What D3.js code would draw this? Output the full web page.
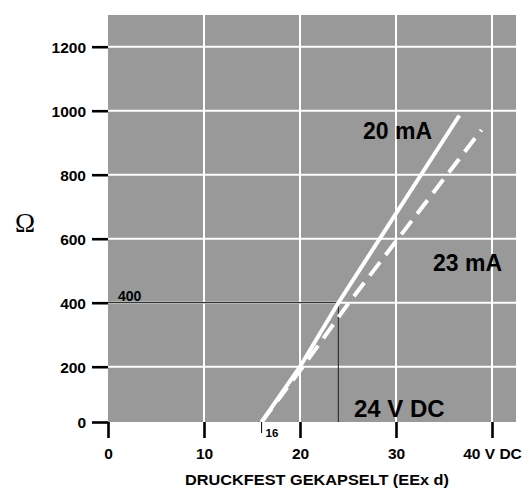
<!DOCTYPE html>
<html>
<head>
<script src="https://d3js.org/d3.v7.min.js"></script>
<style>
  body {margin: 0; background: #fff;}
  .tick text, .lbl {font-family: "Liberation Sans", Arial, sans-serif; font-weight: bold; fill: #000;}
</style>
</head>
<body>
<svg id="chart" width="529" height="488"></svg>
<script>
// data
var yTicks = [0, 200, 400, 600, 800, 1000, 1200];
var xTicks = [0, 10, 20, 30, 40];
var xTickLabels = ["0", "10", "20", "30", "40 V DC"];
var line20U = [16, 20, 24, 36.6];
var line20R = [0, 200, 400, 985];
var line23U = [16, 20.3, 25.1, 38.9];
var line23R = [0, 200, 400, 940];
var refU = 24, refR = 400, startU = 16;

var svg = d3.select("#chart"),
    pLeft = 108, pRight = 516, pTop = 15, pBottom = 422;

var x = d3.scaleLinear().domain([0, 42.5]).range([pLeft, pRight]);
// the drawing's y axis: 0 sits on the bottom edge, 200 steps are even from 200 up
var y = d3.scaleLinear().domain([0, 200, 1200]).range([pBottom, 366.7, 46.7]);

svg.append("rect")
    .attr("x", pLeft).attr("y", pTop)
    .attr("width", pRight - pLeft).attr("height", pBottom - pTop)
    .attr("fill", "#999999");

// grid
svg.append("g").selectAll("line")
    .data(yTicks.slice(1))
    .enter().append("line")
    .attr("x1", pLeft).attr("x2", pRight)
    .attr("y1", function(d) { return y(d); })
    .attr("y2", function(d) { return y(d); })
    .attr("stroke", "#fff").attr("stroke-width", 2);

svg.append("g").selectAll("line")
    .data(xTicks.slice(1))
    .enter().append("line")
    .attr("y1", pTop).attr("y2", pBottom)
    .attr("x1", function(d) { return x(d); })
    .attr("x2", function(d) { return x(d); })
    .attr("stroke", "#fff").attr("stroke-width", 2);

// reference lines at 24 V / 400 Ohm
svg.append("path")
    .attr("d", "M" + pLeft + "," + y(refR) + "H" + x(refU) + "V" + pBottom)
    .attr("fill", "none").attr("stroke", "#333").attr("stroke-width", 1.2);

svg.append("defs").append("clipPath").attr("id", "clip")
    .append("rect").attr("x", pLeft).attr("y", pTop)
    .attr("width", pRight - pLeft).attr("height", pBottom - pTop);

var line = d3.line()
    .x(function(d) { return x(d[0]); })
    .y(function(d) { return y(d[1]); });

svg.append("path")
    .datum(d3.zip(line23U, line23R))
    .attr("clip-path", "url(#clip)")
    .attr("d", line)
    .attr("fill", "none").attr("stroke", "#fff")
    .attr("stroke-width", 4).attr("stroke-dasharray", "17,9");

svg.append("path")
    .datum(d3.zip(line20U, line20R))
    .attr("clip-path", "url(#clip)")
    .attr("d", line)
    .attr("fill", "none").attr("stroke", "#fff")
    .attr("stroke-width", 4);

// axes
var yAxis = svg.append("g")
    .attr("transform", "translate(" + pLeft + ",0)")
    .call(d3.axisLeft(y).tickValues(yTicks).tickSize(16).tickPadding(6)
        .tickFormat(d3.format("d")));
yAxis.select(".domain").remove();
yAxis.selectAll(".tick line").attr("stroke", "#000").attr("stroke-width", 2.6);
yAxis.selectAll(".tick text").attr("font-size", "15.5px").attr("dy", "0.36em");

var xAxis = svg.append("g")
    .attr("transform", "translate(0," + pBottom + ")")
    .call(d3.axisBottom(x).tickValues(xTicks).tickSize(16).tickPadding(10)
        .tickFormat(function(d, i) { return xTickLabels[i]; }));
xAxis.select(".domain").remove();
xAxis.selectAll(".tick line").attr("stroke", "#000").attr("stroke-width", 2.6);
xAxis.selectAll(".tick text").attr("font-size", "15.5px");

// small 16 V mark
svg.append("line")
    .attr("x1", x(startU)).attr("x2", x(startU))
    .attr("y1", pBottom).attr("y2", pBottom + 11)
    .attr("stroke", "#000").attr("stroke-width", 1);
svg.append("text").attr("class", "lbl")
    .attr("x", x(startU) + 4).attr("y", pBottom + 14.5)
    .attr("font-size", "11.5px").text("16");

svg.append("text").attr("class", "lbl")
    .attr("x", pLeft + 10).attr("y", y(refR) - 2)
    .attr("font-size", "14px").text("400");

svg.append("text").attr("class", "lbl")
    .attr("x", 363).attr("y", 139)
    .attr("font-size", "23px").text("20 mA");
svg.append("text").attr("class", "lbl")
    .attr("x", 433).attr("y", 270.5)
    .attr("font-size", "23px").text("23 mA");
svg.append("text").attr("class", "lbl")
    .attr("x", 354).attr("y", 416.5)
    .attr("font-size", "24px").text("24 V DC");

svg.append("text").attr("class", "lbl")
    .attr("x", 185).attr("y", 485)
    .attr("font-size", "14px")
    .attr("textLength", 264).attr("lengthAdjust", "spacingAndGlyphs")
    .text("DRUCKFEST GEKAPSELT (EEx d)");

svg.append("text")
    .attr("x", 25).attr("y", 232)
    .attr("text-anchor", "middle")
    .attr("font-family", "'Liberation Serif', 'Times New Roman', serif")
    .attr("font-size", "27px").attr("fill", "#000")
    .text("Ω");
</script>
</body>
</html>
